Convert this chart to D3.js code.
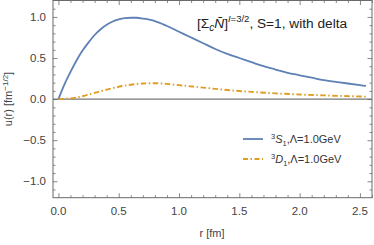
<!DOCTYPE html>
<html>
<head>
<meta charset="utf-8">
<script src="https://cdn.jsdelivr.net/npm/d3@7"></script>
<style>
  body { margin: 0; background: #fff; }
  text { font-family: "Liberation Sans", Arial, sans-serif; }
</style>
</head>
<body>
<svg id="chart" width="374" height="245"></svg>
<script>
// radial wave functions
let rS = [0, 0.05, 0.1, 0.15, 0.2, 0.25, 0.3, 0.35, 0.4, 0.45, 0.5, 0.55, 0.6, 0.65, 0.7, 0.8, 0.9, 1.0, 1.1, 1.2, 1.3, 1.4, 1.5, 1.6, 1.7, 1.8, 1.9, 2.0, 2.1, 2.2, 2.3, 2.4, 2.5, 2.55];
let uS = [0, 0.18, 0.33, 0.47, 0.59, 0.69, 0.78, 0.85, 0.905, 0.945, 0.97, 0.985, 0.99, 0.99, 0.98, 0.95, 0.89, 0.82, 0.75, 0.68, 0.61, 0.55, 0.50, 0.45, 0.40, 0.36, 0.32, 0.29, 0.26, 0.23, 0.21, 0.19, 0.17, 0.16];
let rD = [0, 0.1, 0.2, 0.3, 0.4, 0.5, 0.6, 0.7, 0.8, 0.9, 1.0, 1.2, 1.4, 1.6, 1.8, 2.0, 2.2, 2.4, 2.55];
let uD = [0, 0.008, 0.035, 0.075, 0.115, 0.15, 0.175, 0.19, 0.193, 0.185, 0.17, 0.14, 0.11, 0.088, 0.07, 0.056, 0.045, 0.036, 0.03];
let xTicks = [0, 0.5, 1.0, 1.5, 2.0, 2.5];
let yTicks = [-1.0, -0.5, 0, 0.5, 1.0];

let svg = d3.select("#chart");
let margin = {left: 53, right: 2, top: 0.5, bottom: 47.3};
let width = 374 - margin.left - margin.right;
let height = 245 - margin.top - margin.bottom;

let x = d3.scaleLinear().domain([-0.045, 2.6]).range([0, width]);
let y = d3.scaleLinear().domain([-1.2, 1.2]).range([height, 0]);

let g = svg.append("g").attr("transform", "translate(" + margin.left + "," + margin.top + ")");

let frameColor = "#6a6a6a";
let labelColor = "#444";

// zero line
g.append("line")
    .attr("x1", 0).attr("x2", width)
    .attr("y1", y(0)).attr("y2", y(0))
    .attr("stroke", "#555").attr("stroke-width", 1);

// curves
let line = d3.line().x(function (d) { return x(d[0]); }).y(function (d) { return y(d[1]); }).curve(d3.curveMonotoneX);

g.append("path")
    .datum(rS.map(function (r, i) { return [r, uS[i]]; }))
    .attr("d", line)
    .attr("fill", "none").attr("stroke", "#5E81B5").attr("stroke-width", 1.8);

g.append("path")
    .datum(rD.map(function (r, i) { return [r, uD[i]]; }))
    .attr("d", line)
    .attr("fill", "none").attr("stroke", "#E19C24").attr("stroke-width", 1.9)
    .attr("stroke-dasharray", "5.5,2.5,1.5,2.5");

// frame ticks, Mathematica style: inward on all sides
let xMinor = d3.range(0, 2.61, 0.1).filter(function (v) { return Math.abs(v * 2 - Math.round(v * 2)) > 1e-6; });
let yMinor = d3.range(-1.1, 1.11, 0.1).filter(function (v) { return Math.abs(v * 2 - Math.round(v * 2)) > 1e-6; });

function tickAxis(axisFn, scale, values, size) {
    return axisFn(scale).tickValues(values).tickSize(size).tickFormat("");
}

g.append("g").attr("transform", "translate(0," + height + ")").call(tickAxis(d3.axisTop, x, xTicks, 4.5));
g.append("g").attr("transform", "translate(0," + height + ")").call(tickAxis(d3.axisTop, x, xMinor, 2.5));
g.append("g").call(tickAxis(d3.axisBottom, x, xTicks, 4.5));
g.append("g").call(tickAxis(d3.axisBottom, x, xMinor, 2.5));
g.append("g").call(tickAxis(d3.axisRight, y, yTicks, 4.5));
g.append("g").call(tickAxis(d3.axisRight, y, yMinor, 2.5));
g.append("g").attr("transform", "translate(" + width + ",0)").call(tickAxis(d3.axisLeft, y, yTicks, 4.5));
g.append("g").attr("transform", "translate(" + width + ",0)").call(tickAxis(d3.axisLeft, y, yMinor, 2.5));

g.selectAll(".tick line").attr("stroke", frameColor).attr("stroke-width", 0.8);
g.selectAll(".domain").remove();

g.append("rect")
    .attr("width", width).attr("height", height)
    .attr("fill", "none").attr("stroke", frameColor).attr("stroke-width", 1);

// tick labels
g.selectAll(".xlab").data(xTicks).enter().append("text")
    .attr("x", function (d) { return x(d); })
    .attr("y", height + 17.5)
    .attr("text-anchor", "middle")
    .attr("font-size", 11.5).attr("fill", labelColor)
    .text(function (d) { return d3.format(".1f")(d); });

g.selectAll(".ylab").data(yTicks).enter().append("text")
    .attr("x", -7)
    .attr("y", function (d) { return y(d) + 4; })
    .attr("text-anchor", "end")
    .attr("font-size", 11.5).attr("fill", labelColor)
    .text(function (d) { return d3.format(".1f")(d).replace("-", "\u2212"); });

// axis titles
svg.append("text")
    .attr("x", 212).attr("y", 237)
    .attr("text-anchor", "middle")
    .attr("font-size", 11).attr("fill", labelColor)
    .text("r [fm]");

let yl = svg.append("text")
    .attr("transform", "translate(12,99) rotate(-90)")
    .attr("text-anchor", "middle")
    .attr("font-size", 11).attr("fill", labelColor);
yl.append("tspan").text("u(r) [fm");
yl.append("tspan").attr("dy", -4).attr("font-size", 8).text("\u22121/2");
yl.append("tspan").attr("dy", 4).text("]");

// title
let t = svg.append("text")
    .attr("x", 197).attr("y", 28)
    .attr("font-size", 13.7).attr("fill", "#222");
t.append("tspan").text("[\u03A3");
t.append("tspan").attr("dy", 3).attr("font-size", 10).attr("font-style", "italic").text("c");
t.append("tspan").attr("dy", -3).attr("font-style", "italic").text("N\u0304");
t.append("tspan").text("]");
t.append("tspan").attr("dy", -6).attr("font-size", 9.5).attr("font-style", "italic").text("I");
t.append("tspan").attr("font-size", 9.5).text("=3/2");
t.append("tspan").attr("dy", 6).text(", S=1, with delta");

// legend
let legend = [
    {name: "S", color: "#5E81B5", dash: null},
    {name: "D", color: "#E19C24", dash: "5,2.5,1.5,2.5"}
];
legend.forEach(function (d, i) {
    let ly = 139 + i * 20;
    svg.append("line")
        .attr("x1", 243).attr("x2", 263).attr("y1", ly).attr("y2", ly)
        .attr("stroke", d.color).attr("stroke-width", 1.8)
        .attr("stroke-dasharray", d.dash);
    let lt = svg.append("text").attr("x", 271).attr("y", ly + 4)
        .attr("font-size", 11).attr("fill", "#333");
    lt.append("tspan").attr("dy", -4.5).attr("font-size", 7.5).text("3");
    lt.append("tspan").attr("dy", 4.5).attr("font-style", "italic").text(d.name);
    lt.append("tspan").attr("dy", 3).attr("font-size", 7.5).text("1");
    lt.append("tspan").attr("dy", -3).text(",\u039B=1.0GeV");
});
</script>
</body>
</html>
